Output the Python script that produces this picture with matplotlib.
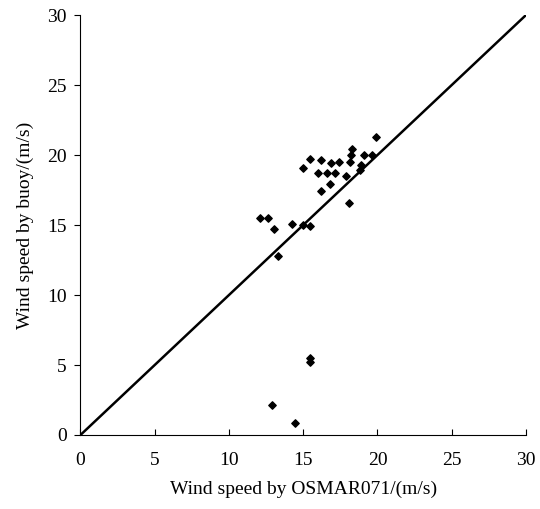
import numpy as np
import matplotlib.pyplot as plt

plt.rcParams['font.family'] = ['Liberation Serif', 'DejaVu Serif']

# wind speed (m/s)
osmar = [19.93, 18.3, 18.2, 18.15, 19.1, 19.6, 18.9, 18.8, 17.9, 18.1,
         15.46, 16.17, 16.88, 17.39, 15.0, 16.02, 16.58, 17.13, 16.78, 16.17,
         12.11, 12.62, 13.03, 14.24, 15.0, 15.46, 13.33,
         15.46, 15.46, 12.92, 14.45]
buoy = [21.3, 20.4, 20.0, 19.5, 20.0, 20.0, 19.3, 18.9, 18.5, 16.6,
        19.7, 19.65, 19.45, 19.5, 19.1, 18.7, 18.7, 18.7, 17.9, 17.4,
        15.5, 15.5, 14.7, 15.1, 15.0, 14.95, 12.8,
        5.5, 5.2, 2.15, 0.85]
ticks = [0, 5, 10, 15, 20, 25, 30]

fig = plt.figure(figsize=(5.4, 5.09), dpi=100)
ax = fig.add_axes([0.149, 0.1454, 0.825, 0.825])

ax.plot([0, 30], [0, 30], color='k', lw=1.8, solid_capstyle='butt')
ax.scatter(osmar, buoy, marker='D', s=14, color='k', zorder=3)

ax.set_xlim(0, 30)
ax.set_ylim(0, 30)
ax.set_xticks(ticks)
ax.set_yticks(ticks)
ax.spines['top'].set_visible(False)
ax.spines['right'].set_visible(False)
ax.tick_params(axis='x', direction='in', length=4, labelsize=14, pad=12)
ax.tick_params(axis='y', direction='out', length=4, labelsize=14, pad=6)
ax.set_xlabel('Wind speed by OSMAR071/(m/s)', fontsize=14, labelpad=9)
ax.set_ylabel('Wind speed by buoy/(m/s)', fontsize=14, labelpad=9)

fig.savefig('out.png', dpi=100)
